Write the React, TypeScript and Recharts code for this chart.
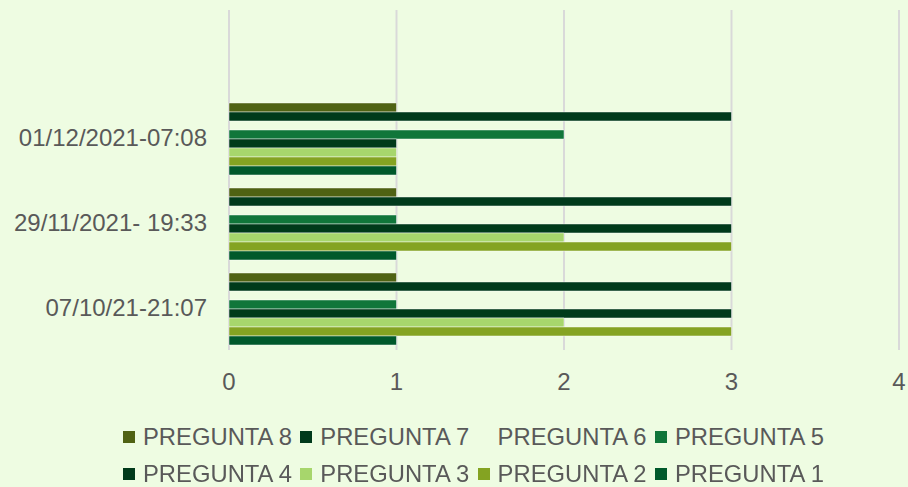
import React from 'react'
import { BarChart, Bar, XAxis, YAxis, CartesianGrid, Legend } from 'recharts'

// categories top -> bottom (first one is an empty slot, as in the original sheet)
const categories = ['', '01/12/2021-07:08', '29/11/2021- 19:33', '07/10/21-21:07']

const pregunta8 = [null, 1, 1, 1]
const pregunta7 = [null, 3, 3, 3]
const pregunta6 = [null, 0, 0, 0]
const pregunta5 = [null, 2, 1, 1]
const pregunta4 = [null, 1, 3, 3]
const pregunta3 = [null, 1, 2, 2]
const pregunta2 = [null, 1, 3, 3]
const pregunta1 = [null, 1, 1, 1]

const xTicks = [0, 1, 2, 3, 4]

const series = [
  { key: 'p8', name: 'PREGUNTA 8', values: pregunta8, color: '#4f6213' },
  { key: 'p7', name: 'PREGUNTA 7', values: pregunta7, color: '#003a1b' },
  { key: 'p6', name: 'PREGUNTA 6', values: pregunta6, color: 'transparent' },
  { key: 'p5', name: 'PREGUNTA 5', values: pregunta5, color: '#10763a' },
  { key: 'p4', name: 'PREGUNTA 4', values: pregunta4, color: '#003a1a' },
  { key: 'p3', name: 'PREGUNTA 3', values: pregunta3, color: '#a7d66c' },
  { key: 'p2', name: 'PREGUNTA 2', values: pregunta2, color: '#84a322' },
  { key: 'p1', name: 'PREGUNTA 1', values: pregunta1, color: '#00592b' },
]

const data = categories.map((cat, i) => {
  const row: Record<string, any> = { cat }
  series.forEach((s) => {
    row[s.key] = s.values[i]
  })
  return row
})

const TEXT = '#595959'
const FONT = '"Liberation Sans", Arial, sans-serif'

const LegendContent = () => (
  <div style={{ position: 'relative', width: 908, height: 87, fontFamily: FONT }}>
    {series.map((s, i) => {
      const col = i % 4
      const row = Math.floor(i / 4)
      return (
        <div
          key={s.key}
          style={{
            position: 'absolute',
            left: 123 + col * 177.3,
            top: 37 + row * 36.5 - 14,
            height: 28,
            display: 'flex',
            alignItems: 'center',
            whiteSpace: 'nowrap',
          }}
        >
          <span style={{ width: 12, height: 12, background: s.color, marginRight: 8, display: 'inline-block' }} />
          <span style={{ fontSize: 23.8, color: TEXT, lineHeight: '28px' }}>{s.name}</span>
        </div>
      )
    })}
  </div>
)

export default function App() {
  return (
    <div style={{ position: 'fixed', left: 0, top: 0, width: 908, height: 487, background: '#eefce2' }}>
      <BarChart
        width={908}
        height={487}
        data={data}
        layout="vertical"
        margin={{ top: 10, right: 9, bottom: 0, left: 0 }}
        barCategoryGap="9.4%"
        barGap={0}
      >
        <CartesianGrid horizontal={false} stroke="#d9d9d9" strokeWidth={2} />
        <XAxis
          type="number"
          domain={[0, 4]}
          ticks={xTicks}
          axisLine={false}
          tickLine={false}
          tickSize={0}
          tickMargin={23}
          height={50}
          tick={{ fill: TEXT, fontSize: 24, fontFamily: FONT }}
        />
        <YAxis
          type="category"
          dataKey="cat"
          width={229}
          axisLine={false}
          tickLine={false}
          tickSize={0}
          tickMargin={22}
          interval={0}
          tick={{ fill: TEXT, fontSize: 24, fontFamily: FONT }}
        />
        <Legend
          verticalAlign="bottom"
          height={87}
          content={<LegendContent />}
          wrapperStyle={{ left: 0, width: 908 }}
        />
        {series.map((s) => (
          <Bar
            key={s.key}
            dataKey={s.key}
            name={s.name}
            fill={s.color}
            stroke={s.key === 'p6' ? 'none' : 'rgba(255,255,255,0.45)'}
            strokeWidth={1}
            isAnimationActive={false}
          />
        ))}
      </BarChart>
    </div>
  )
}
